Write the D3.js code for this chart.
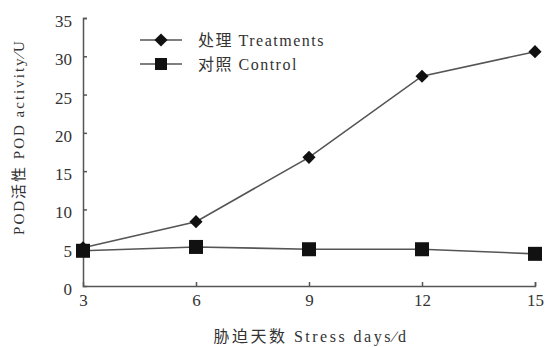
<!DOCTYPE html>
<html><head><meta charset="utf-8">
<script src="https://cdn.jsdelivr.net/npm/d3@7"></script>
<style>body{margin:0;background:#fff}text{font-family:"Liberation Serif","Noto Sans CJK SC",serif;fill:#333}</style>
</head><body><svg id="c" width="546" height="347"></svg>
<script>
const days = [3, 6, 9, 12, 15];
const treatments = [5.0, 8.4, 16.8, 27.4, 30.6];
const control = [4.6, 5.1, 4.8, 4.8, 4.2];
const yTicks = [0, 5, 10, 15, 20, 25, 30, 35];
const seriesNames = ["处理 Treatments", "对照 Control"];
const xTitle = "胁迫天数 Stress days\u2215d";
const yTitle = "POD活性 POD activity\u2215U";

const svg = d3.select("#c");
const x = d3.scaleLinear().domain([3, 15]).range([83, 535]);
const y = d3.scaleLinear().domain([0, 35]).range([286, 18]);
const col = "#555";

const xa = svg.append("g").attr("transform", "translate(0,286)")
  .call(d3.axisBottom(x).tickValues(days).tickSize(-4).tickPadding(8).tickFormat(d3.format("d")));
const ya = svg.append("g").attr("transform", "translate(83,0)")
  .call(d3.axisLeft(y).tickValues(yTicks).tickSize(-4).tickPadding(11));
[xa, ya].forEach(g => {
  g.select(".domain").attr("stroke", col).attr("stroke-width", 1.5);
  g.selectAll(".tick line").attr("stroke", col).attr("stroke-width", 1.5);
  g.selectAll("text").style("font-size", "17px").attr("fill", "#333");
});
ya.selectAll(".tick").filter(d => d === 0).select("line").remove();
xa.selectAll(".tick").filter(d => d === 3).select("line").remove();
ya.selectAll("text").attr("dy", "0.5em");

const line = d3.line().x((d, i) => x(days[i])).y(d => y(d));
svg.append("path").datum(control).attr("d", line).attr("fill", "none").attr("stroke", col).attr("stroke-width", 1.6);
svg.append("path").datum(treatments).attr("d", line).attr("fill", "none").attr("stroke", col).attr("stroke-width", 1.6);

const diamond = d3.symbol().type(d3.symbolDiamond2).size(110);
svg.selectAll(".tr").data(treatments).join("path")
  .attr("d", diamond).attr("transform", (d, i) => `translate(${x(days[i])},${y(d)})`).attr("fill", "#111");
svg.selectAll(".ct").data(control).join("rect")
  .attr("x", (d, i) => x(days[i]) - 7).attr("y", d => y(d) - 7)
  .attr("width", 14).attr("height", 14).attr("fill", "#111");

// legend
const lg = [{y: 40, t: "d"}, {y: 64, t: "s"}];
lg.forEach((l, i) => {
  svg.append("line").attr("x1", 140).attr("x2", 182).attr("y1", l.y).attr("y2", l.y).attr("stroke", col).attr("stroke-width", 1.6);
  if (l.t === "d") svg.append("path").attr("d", diamond).attr("transform", `translate(161,${l.y})`).attr("fill", "#111");
  else svg.append("rect").attr("x", 155).attr("y", l.y - 6).attr("width", 12).attr("height", 12).attr("fill", "#111");
  svg.append("text").attr("x", 198).attr("y", l.y + 6).style("font-size", "16px").style("letter-spacing", "1.5px").text(seriesNames[i]);
});

svg.append("text").attr("x", 311).attr("y", 342).attr("text-anchor", "middle").style("font-size", "16px").style("letter-spacing", "2.5px").text(xTitle);
svg.append("text").attr("transform", "translate(24,137) rotate(-90)").attr("text-anchor", "middle").style("font-size", "15px").style("letter-spacing", "2px").text(yTitle);
</script></body></html>
